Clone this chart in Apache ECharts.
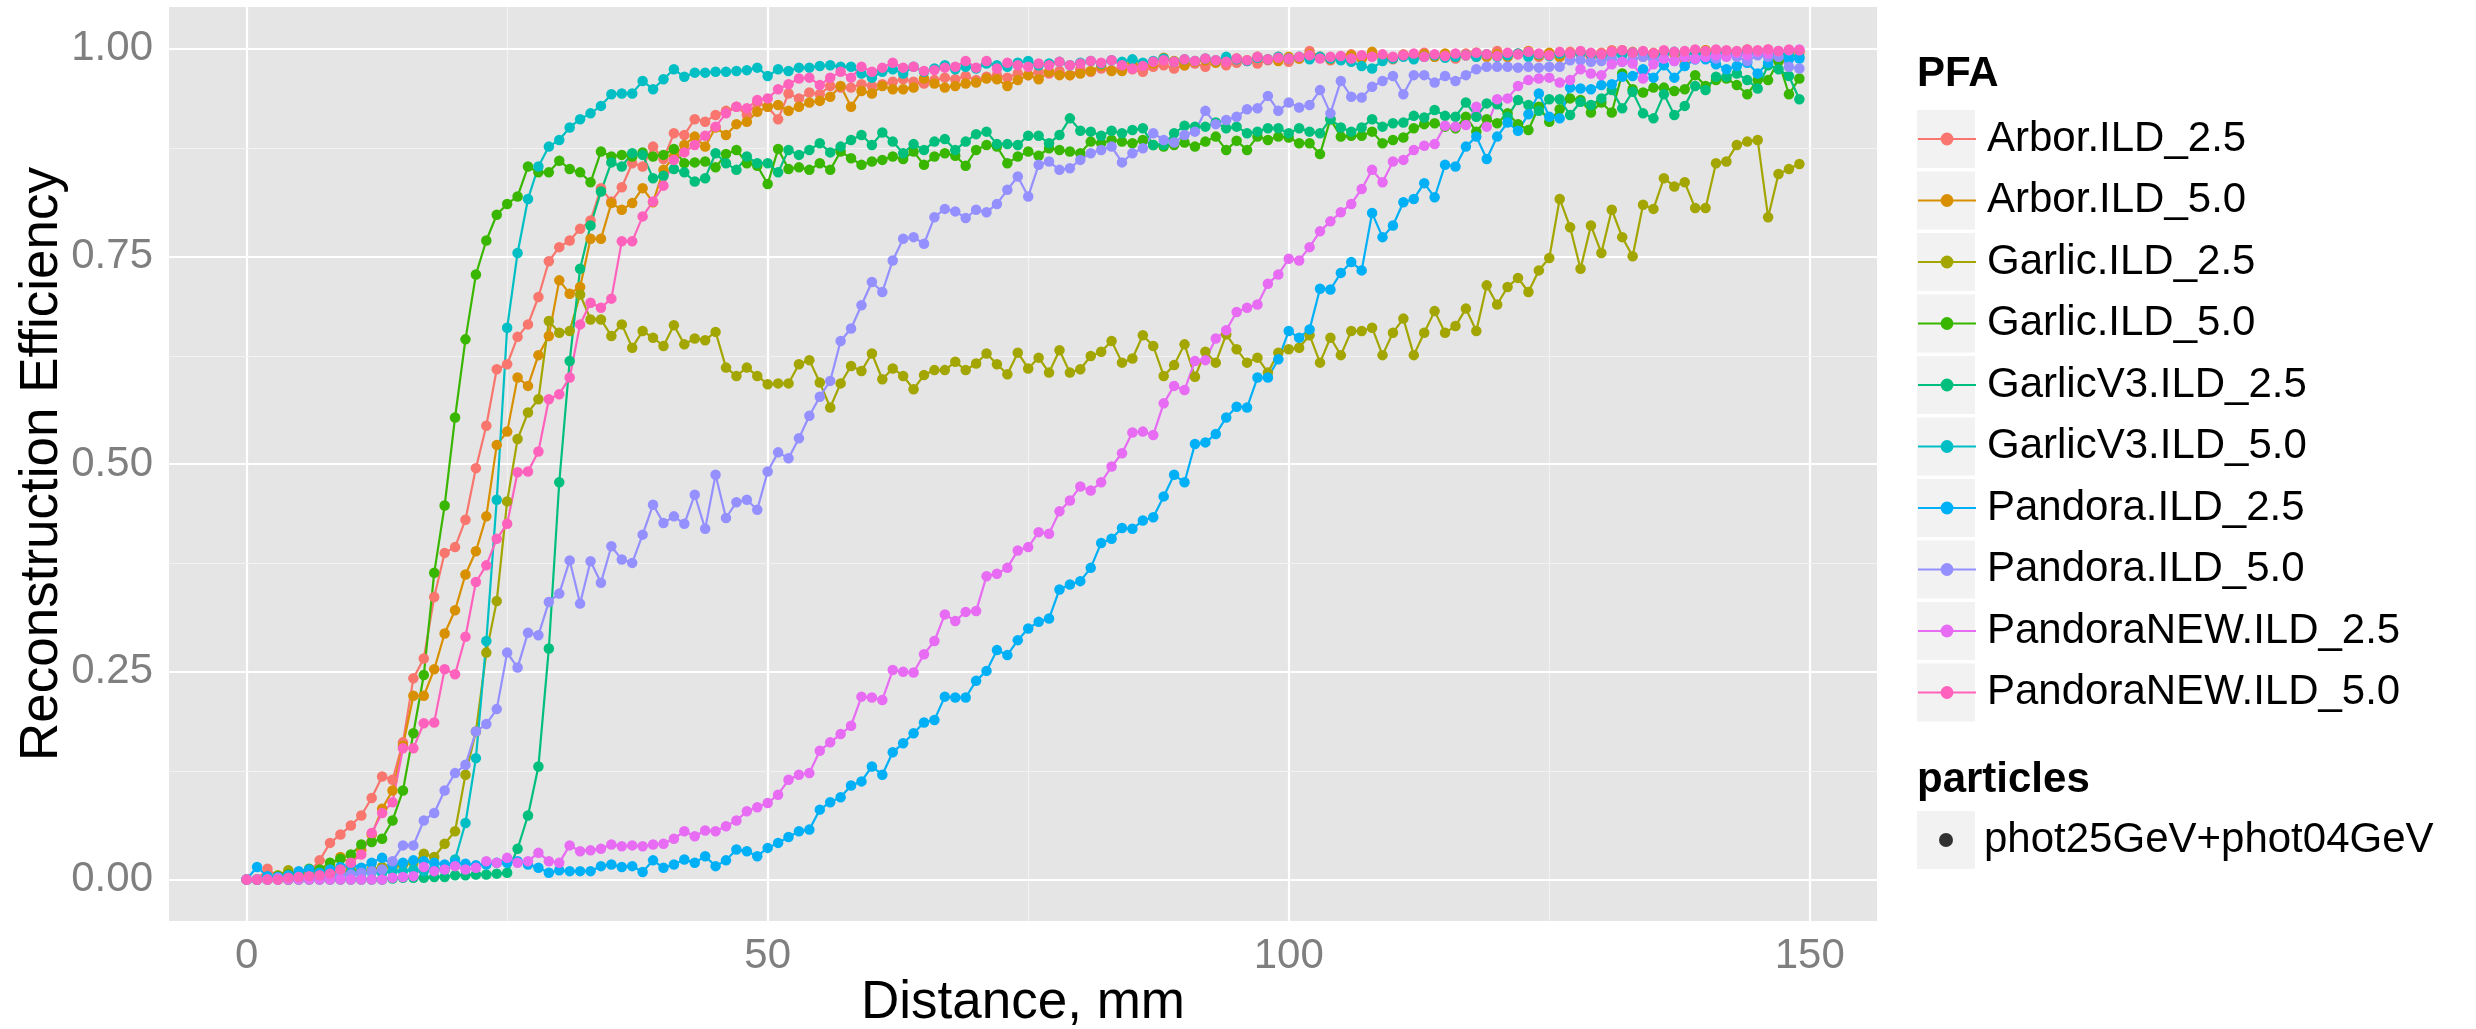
<!DOCTYPE html>
<html>
<head>
<meta charset="utf-8">
<title>Reconstruction Efficiency vs Distance</title>
<script src="https://cdn.jsdelivr.net/npm/echarts@6/dist/echarts.min.js"></script>
<style>
  html, body { margin: 0; padding: 0; background: #fff; }
  #chart { width: 2476px; height: 1029px; }
</style>
</head>
<body>
<div id="chart"></div>
<script>
// one point per mm, 0..149
var distance = Array.from({ length: 150 }, function (_, i) { return i; });

var arbor25 = [
  0, 0, 0.013, 0.003, 0, 0.003, 0.008, 0.023, 0.044, 0.054,
  0.065, 0.077, 0.098, 0.124, 0.12, 0.165, 0.242, 0.266, 0.34, 0.393,
  0.40, 0.433, 0.495, 0.546, 0.614, 0.620, 0.653, 0.668, 0.701, 0.744,
  0.761, 0.769, 0.783, 0.793, 0.832, 0.816, 0.833, 0.862, 0.858, 0.882,
  0.867, 0.898, 0.896, 0.915, 0.912, 0.92, 0.925, 0.93, 0.92, 0.935,
  0.93, 0.915, 0.946, 0.94, 0.947, 0.945, 0.955, 0.953, 0.953, 0.957,
  0.955, 0.957, 0.96, 0.963, 0.96, 0.958, 0.962, 0.965, 0.963, 0.967,
  0.962, 0.966, 0.968, 0.965, 0.97, 0.968, 0.972, 0.97, 0.973, 0.968,
  0.975, 0.972, 0.976, 0.974, 0.978, 0.975, 0.972, 0.978, 0.98, 0.976,
  0.98, 0.982, 0.978, 0.984, 0.98, 0.983, 0.985, 0.982, 0.986, 0.99,
  0.984, 0.988, 0.997, 0.99, 0.986, 0.99, 0.993, 0.988, 0.992, 0.99,
  0.987, 0.993, 0.99, 0.995, 0.99, 0.992, 0.988, 0.994, 0.99, 0.993,
  0.997, 0.99, 0.993, 0.996, 0.99, 0.994, 0.99, 0.996, 0.993, 0.99,
  0.995, 0.998, 0.993, 0.996, 0.99, 0.995, 0.997, 0.993, 0.98, 0.995,
  0.998, 0.994, 0.997, 0.995, 0.998, 0.996, 0.999, 0.985, 0.997, 0.995
];
var arbor50 = [
  0, 0, 0, 0.002, 0, 0.003, 0.005, 0.008, 0.017, 0.027,
  0.02, 0.035, 0.054, 0.085, 0.107, 0.161, 0.221, 0.221, 0.253, 0.296,
  0.324, 0.367, 0.395, 0.437, 0.523, 0.539, 0.604, 0.594, 0.631, 0.654,
  0.721, 0.705, 0.713, 0.771, 0.771, 0.814, 0.806, 0.814, 0.832, 0.815,
  0.854, 0.87, 0.884, 0.894, 0.882, 0.905, 0.896, 0.909, 0.912, 0.924,
  0.93, 0.932, 0.925, 0.93, 0.935, 0.937, 0.942, 0.955, 0.93, 0.949,
  0.946, 0.955, 0.951, 0.951, 0.953, 0.964, 0.958, 0.953, 0.955, 0.958,
  0.959, 0.964, 0.963, 0.955, 0.962, 0.968, 0.963, 0.972, 0.968, 0.968,
  0.97, 0.973, 0.979, 0.973, 0.973, 0.982, 0.979, 0.982, 0.989, 0.985,
  0.98, 0.984, 0.986, 0.983, 0.985, 0.988, 0.986, 0.99, 0.987, 0.985,
  0.99, 0.988, 0.993, 0.99, 0.987, 0.99, 0.992, 0.988, 0.996, 0.99,
  0.988, 0.992, 0.99, 0.993, 0.99, 0.994, 0.99, 0.992, 0.995, 0.99,
  0.993, 0.99, 0.994, 0.997, 0.992, 0.995, 0.99, 0.993, 0.996, 0.994,
  0.991, 0.995, 0.998, 0.994, 0.996, 0.993, 0.997, 0.995, 0.99, 0.996,
  0.998, 0.995, 0.997, 0.996, 0.999, 0.997, 0.995, 0.985, 0.996, 0.997
];
var garlic25 = [
  0, 0, 0.003, 0.005, 0.011, 0.006, 0.005, 0.008, 0.01, 0.008,
  0.012, 0.01, 0.012, 0.015, 0.014, 0.018, 0.02, 0.031, 0.027, 0.043,
  0.058, 0.126, 0.178, 0.273, 0.335, 0.455, 0.53, 0.562, 0.578, 0.672,
  0.658, 0.66, 0.704, 0.674, 0.674, 0.654, 0.668, 0.64, 0.66, 0.652,
  0.642, 0.667, 0.644, 0.651, 0.649, 0.659, 0.616, 0.606, 0.616, 0.606,
  0.596, 0.597, 0.597, 0.62, 0.625, 0.598, 0.568, 0.597, 0.618, 0.612,
  0.633, 0.602, 0.615, 0.606, 0.59, 0.607, 0.613, 0.613, 0.623, 0.613,
  0.621, 0.633, 0.62, 0.608, 0.634, 0.615, 0.628, 0.61, 0.637, 0.61,
  0.614, 0.63, 0.635, 0.648, 0.622, 0.627, 0.655, 0.642, 0.606, 0.619,
  0.644, 0.605, 0.635, 0.622, 0.656, 0.638, 0.622, 0.628, 0.61, 0.634,
  0.638, 0.64, 0.655, 0.622, 0.652, 0.631, 0.66, 0.66, 0.664, 0.631,
  0.658, 0.675, 0.631, 0.658, 0.684, 0.658, 0.666, 0.687, 0.66, 0.715,
  0.692, 0.713, 0.724, 0.707, 0.733, 0.748, 0.819, 0.785, 0.735, 0.787,
  0.754, 0.806, 0.773, 0.75, 0.812, 0.807, 0.844, 0.834, 0.839, 0.808,
  0.808, 0.862, 0.864, 0.884, 0.888, 0.89, 0.797, 0.849, 0.855, 0.861
];
var garlic50 = [
  0, 0, 0.002, 0.004, 0.006, 0.008, 0.013, 0.012, 0.02, 0.025,
  0.03, 0.042, 0.045, 0.049, 0.071, 0.107, 0.176, 0.246, 0.369, 0.45,
  0.556, 0.65, 0.728, 0.769, 0.80, 0.813, 0.822, 0.858, 0.851, 0.851,
  0.865, 0.855, 0.851, 0.839, 0.876, 0.87, 0.872, 0.87, 0.875, 0.87,
  0.872, 0.879, 0.862, 0.863, 0.864, 0.857, 0.873, 0.878, 0.862, 0.859,
  0.837, 0.879, 0.855, 0.857, 0.854, 0.862, 0.854, 0.876, 0.868, 0.86,
  0.864, 0.866, 0.87, 0.867, 0.876, 0.86, 0.87, 0.874, 0.871, 0.859,
  0.878, 0.884, 0.882, 0.862, 0.87, 0.876, 0.871, 0.88, 0.878, 0.876,
  0.874, 0.888, 0.886, 0.89, 0.888, 0.886, 0.89, 0.884, 0.882, 0.884,
  0.887, 0.882, 0.888, 0.894, 0.878, 0.889, 0.878, 0.894, 0.89, 0.894,
  0.893, 0.886, 0.886, 0.873, 0.915, 0.894, 0.895, 0.895, 0.9, 0.886,
  0.89, 0.893, 0.904, 0.909, 0.91, 0.906, 0.904, 0.918, 0.9, 0.915,
  0.91, 0.922, 0.909, 0.902, 0.93, 0.912, 0.927, 0.94, 0.938, 0.923,
  0.935, 0.923, 0.97, 0.951, 0.947, 0.953, 0.953, 0.949, 0.951, 0.968,
  0.955, 0.962, 0.964, 0.956, 0.945, 0.962, 0.962, 0.985, 0.945, 0.964
];
var garlicV3_25 = [
  0, 0, 0, 0, 0, 0, 0, 0, 0, 0,
  0, 0, 0, 0, 0.001, 0.002, 0.002, 0.002, 0.003, 0.003,
  0.005, 0.005, 0.006, 0.006, 0.007, 0.008, 0.037, 0.077, 0.136, 0.278,
  0.478, 0.624, 0.735, 0.787, 0.828, 0.863, 0.858, 0.874, 0.872, 0.844,
  0.847, 0.855, 0.851, 0.84, 0.844, 0.874, 0.862, 0.854, 0.87, 0.862,
  0.862, 0.851, 0.878, 0.872, 0.878, 0.886, 0.875, 0.882, 0.89, 0.896,
  0.884, 0.899, 0.888, 0.874, 0.885, 0.878, 0.888, 0.891, 0.878, 0.888,
  0.897, 0.9, 0.885, 0.885, 0.884, 0.895, 0.895, 0.886, 0.896, 0.916,
  0.901, 0.9, 0.895, 0.901, 0.898, 0.902, 0.904, 0.884, 0.884, 0.898,
  0.907, 0.906, 0.906, 0.911, 0.904, 0.906, 0.898, 0.9, 0.904, 0.904,
  0.898, 0.904, 0.9, 0.898, 0.915, 0.905, 0.9, 0.905, 0.915, 0.906,
  0.91, 0.911, 0.919, 0.917, 0.926, 0.919, 0.918, 0.935, 0.918, 0.934,
  0.933, 0.918, 0.938, 0.932, 0.925, 0.939, 0.939, 0.92, 0.936, 0.932,
  0.94, 0.95, 0.928, 0.948, 0.922, 0.916, 0.945, 0.92, 0.931, 0.955,
  0.95, 0.966, 0.966, 0.97, 0.962, 0.952, 0.98, 0.975, 0.967, 0.939
];
var garlicV3_50 = [
  0, 0, 0, 0.003, 0.002, 0.004, 0.003, 0.005, 0.006, 0.005,
  0.008, 0.007, 0.009, 0.008, 0.01, 0.01, 0.012, 0.01, 0.013, 0.012,
  0.024, 0.068, 0.146, 0.287, 0.457, 0.664, 0.754, 0.819, 0.858, 0.882,
  0.89, 0.905, 0.915, 0.922, 0.931, 0.945, 0.946, 0.946, 0.961, 0.951,
  0.963, 0.975, 0.966, 0.971, 0.971, 0.972, 0.972, 0.973, 0.974, 0.977,
  0.967, 0.975, 0.973, 0.977, 0.977, 0.979, 0.98, 0.978, 0.978, 0.97,
  0.965, 0.972, 0.975, 0.97, 0.978, 0.972, 0.976, 0.98, 0.975, 0.978,
  0.976, 0.982, 0.98, 0.978, 0.983, 0.985, 0.98, 0.982, 0.984, 0.98,
  0.983, 0.985, 0.982, 0.986, 0.984, 0.987, 0.983, 0.985, 0.988, 0.984,
  0.987, 0.985, 0.988, 0.986, 0.99, 0.987, 0.985, 0.989, 0.987, 0.99,
  0.988, 0.99, 0.987, 0.99, 0.988, 0.986, 0.984, 0.979, 0.976, 0.985,
  0.988, 0.99, 0.987, 0.99, 0.992, 0.989, 0.99, 0.992, 0.99, 0.993,
  0.99, 0.992, 0.994, 0.99, 0.993, 0.991, 0.994, 0.992, 0.995, 0.993,
  0.99, 0.994, 0.992, 0.995, 0.993, 0.99, 0.994, 0.996, 0.992, 0.995,
  0.993, 0.996, 0.994, 0.992, 0.995, 0.993, 0.996, 0.994, 0.992, 0.99
];
var pandora25 = [
  0, 0.015, 0.004, 0.003, 0.005, 0.01, 0.012, 0.008, 0.012, 0.015,
  0.018, 0.014, 0.02, 0.026, 0.018, 0.02, 0.023, 0.022, 0.02, 0.018,
  0.02, 0.019, 0.017, 0.018, 0.02, 0.02, 0.022, 0.018, 0.014, 0.008,
  0.011, 0.01, 0.01, 0.01, 0.016, 0.018, 0.015, 0.016, 0.009, 0.023,
  0.014, 0.018, 0.024, 0.02, 0.028, 0.016, 0.023, 0.036, 0.034, 0.028,
  0.038, 0.044, 0.051, 0.058, 0.06, 0.084, 0.093, 0.099, 0.113, 0.118,
  0.136, 0.126, 0.153, 0.164, 0.176, 0.189, 0.192, 0.22, 0.219, 0.219,
  0.239, 0.251, 0.276, 0.27, 0.288, 0.302, 0.31, 0.314, 0.349, 0.355,
  0.359, 0.375, 0.405, 0.41, 0.423, 0.422, 0.432, 0.436, 0.461, 0.487,
  0.478, 0.524, 0.526, 0.536, 0.556, 0.569, 0.568, 0.604, 0.604, 0.626,
  0.66, 0.652, 0.662, 0.711, 0.71, 0.73, 0.743, 0.733, 0.802, 0.773,
  0.787, 0.815, 0.819, 0.838, 0.821, 0.86, 0.858, 0.882, 0.894, 0.867,
  0.894, 0.911, 0.901, 0.921, 0.946, 0.918, 0.916, 0.953, 0.952, 0.951,
  0.956, 0.957, 0.966, 0.967, 0.975, 0.965, 0.98, 0.965, 0.979, 0.987,
  0.987, 0.981, 0.975, 0.979, 0.983, 0.97, 0.983, 0.99, 0.987, 0.988
];
var pandora50 = [
  0, 0, 0, 0.002, 0.001, 0.003, 0.002, 0.004, 0.005, 0.006,
  0.006, 0.008, 0.01, 0.012, 0.022, 0.041, 0.041, 0.071, 0.08, 0.107,
  0.128, 0.138, 0.178, 0.187, 0.205, 0.273, 0.255, 0.297, 0.294, 0.334,
  0.344, 0.384, 0.332, 0.383, 0.357, 0.401, 0.385, 0.381, 0.415, 0.451,
  0.429, 0.437, 0.428, 0.463, 0.422, 0.487, 0.435, 0.454, 0.457, 0.445,
  0.491, 0.514, 0.507, 0.531, 0.558, 0.581, 0.6, 0.648, 0.663, 0.691,
  0.719, 0.707, 0.745, 0.771, 0.773, 0.765, 0.797, 0.807, 0.804, 0.796,
  0.806, 0.803, 0.813, 0.83, 0.846, 0.822, 0.86, 0.864, 0.854, 0.856,
  0.866, 0.874, 0.878, 0.882, 0.863, 0.874, 0.88, 0.898, 0.89, 0.887,
  0.896, 0.9, 0.925, 0.909, 0.914, 0.918, 0.927, 0.928, 0.943, 0.925,
  0.935, 0.929, 0.932, 0.95, 0.922, 0.961, 0.942, 0.941, 0.954, 0.961,
  0.967, 0.945, 0.968, 0.968, 0.959, 0.967, 0.961, 0.968, 0.975, 0.978,
  0.978, 0.978, 0.977, 0.978, 0.977, 0.978, 0.978, 0.986, 0.986, 0.984,
  0.985, 0.988, 0.984, 0.987, 0.99, 0.986, 0.988, 0.985, 0.99, 0.987,
  0.99, 0.988, 0.992, 0.99, 0.985, 0.992, 0.99, 0.99, 0.978, 0.976
];
var pandoraNew25 = [
  0, 0, 0, 0, 0, 0, 0, 0, 0, 0,
  0, 0, 0, 0, 0.002, 0.003, 0.004, 0.015, 0.01, 0.012,
  0.016, 0.012, 0.014, 0.022, 0.02, 0.026, 0.02, 0.022, 0.032, 0.022,
  0.02, 0.041, 0.034, 0.035, 0.037, 0.042, 0.04, 0.041, 0.04, 0.042,
  0.043, 0.049, 0.058, 0.052, 0.059, 0.058, 0.064, 0.071, 0.082, 0.087,
  0.092, 0.102, 0.12, 0.126, 0.128, 0.155, 0.165, 0.175, 0.185, 0.22,
  0.219, 0.216, 0.252, 0.25, 0.249, 0.271, 0.287, 0.319, 0.311, 0.322,
  0.323, 0.365, 0.368, 0.375, 0.396, 0.4, 0.418, 0.416, 0.443, 0.456,
  0.473, 0.468, 0.478, 0.497, 0.513, 0.538, 0.539, 0.535, 0.573, 0.594,
  0.589, 0.624, 0.625, 0.651, 0.661, 0.683, 0.688, 0.692, 0.717, 0.728,
  0.747, 0.745, 0.761, 0.78, 0.792, 0.803, 0.813, 0.831, 0.854, 0.839,
  0.864, 0.866, 0.878, 0.883, 0.885, 0.907, 0.906, 0.908, 0.93, 0.906,
  0.939, 0.94, 0.955, 0.962, 0.964, 0.965, 0.959, 0.962, 0.975, 0.97,
  0.968, 0.981, 0.984, 0.982, 0.964, 0.981, 0.988, 0.985, 0.99, 0.988,
  0.99, 0.992, 0.99, 0.995, 0.992, 0.996, 0.994, 0.997, 0.998, 0.999
];
var pandoraNew50 = [
  0, 0, 0, 0, 0.002, 0.003, 0.004, 0.005, 0.007, 0.012,
  0.02, 0.03, 0.056, 0.08, 0.093, 0.158, 0.158, 0.188, 0.189, 0.253,
  0.247, 0.292, 0.358, 0.378, 0.41, 0.428, 0.49, 0.491, 0.515, 0.578,
  0.584, 0.604, 0.668, 0.694, 0.688, 0.699, 0.768, 0.768, 0.798, 0.816,
  0.835, 0.866, 0.875, 0.884, 0.895, 0.906, 0.922, 0.93, 0.928, 0.938,
  0.94, 0.951, 0.957, 0.964, 0.965, 0.956, 0.965, 0.972, 0.965, 0.978,
  0.972, 0.977, 0.983, 0.977, 0.978, 0.973, 0.974, 0.977, 0.978, 0.985,
  0.977, 0.985, 0.976, 0.983, 0.98, 0.978, 0.982, 0.98, 0.984, 0.98,
  0.982, 0.985, 0.983, 0.986, 0.98, 0.976, 0.979, 0.984, 0.986, 0.984,
  0.987, 0.985, 0.988, 0.986, 0.984, 0.988, 0.986, 0.99, 0.987, 0.989,
  0.988, 0.99, 0.992, 0.988, 0.99, 0.991, 0.988, 0.992, 0.99, 0.993,
  0.99, 0.992, 0.994, 0.99, 0.993, 0.991, 0.994, 0.992, 0.995, 0.993,
  0.991, 0.995, 0.993, 0.996, 0.994, 0.992, 0.996, 0.994, 0.997, 0.995,
  0.993, 0.996, 0.998, 0.995, 0.997, 0.994, 0.998, 0.996, 0.997, 0.999,
  0.997, 0.999, 0.998, 0.997, 0.999, 0.998, 0.999, 0.997, 0.999, 0.998
];

var pfaNames = ['Arbor.ILD_2.5', 'Arbor.ILD_5.0', 'Garlic.ILD_2.5', 'Garlic.ILD_5.0',
  'GarlicV3.ILD_2.5', 'GarlicV3.ILD_5.0', 'Pandora.ILD_2.5', 'Pandora.ILD_5.0',
  'PandoraNEW.ILD_2.5', 'PandoraNEW.ILD_5.0'];
var pfaValues = [arbor25, arbor50, garlic25, garlic50, garlicV3_25, garlicV3_50,
  pandora25, pandora50, pandoraNew25, pandoraNew50];
var pfaColors = ['#F8766D', '#D89000', '#A3A500', '#39B600', '#00BF7D',
  '#00BFC4', '#00B0F6', '#9590FF', '#E76BF3', '#FF62BC'];
var particlesName = 'phot25GeV+phot04GeV';

var xTicks = [0, 50, 100, 150];
var xMinor = [25, 75, 125];
var yTicks = [0, 0.25, 0.5, 0.75, 1];
var yMinor = [0.125, 0.375, 0.625, 0.875];

var FONT = '"Liberation Sans", Arial, Helvetica, sans-serif';
var AXIS_GREY = '#7F7F7F';

// legend layout
var keyLeft = 1917, keySize = 58, rowTop = 118, rowStep = 61.5, rowText = 42;
var partTop = 819;

var gridLines = [];
xTicks.forEach(function (v) { gridLines.push({ xAxis: v, lineStyle: { type: 'solid', color: '#FFFFFF', width: 2.2 } }); });
xMinor.forEach(function (v) { gridLines.push({ xAxis: v, lineStyle: { type: 'solid', color: '#F2F2F2', width: 1.2 } }); });
yTicks.forEach(function (v) { gridLines.push({ yAxis: v, lineStyle: { type: 'solid', color: '#FFFFFF', width: 2.2 } }); });
yMinor.forEach(function (v) { gridLines.push({ yAxis: v, lineStyle: { type: 'solid', color: '#F2F2F2', width: 1.2 } }); });

var series = pfaNames.map(function (name, k) {
  var s = {
    name: name,
    type: 'line',
    data: pfaValues[k].map(function (v, i) { return [distance[i], v]; }),
    symbol: 'circle',
    symbolSize: 10.5,
    showSymbol: true,
    lineStyle: { width: 2.2, color: pfaColors[k] },
    itemStyle: { color: pfaColors[k] },
    emphasis: { disabled: true },
    z: 2
  };
  if (k === 0) {
    s.markLine = {
      silent: true,
      symbol: 'none',
      z: 1,
      lineStyle: { type: 'solid' },
      label: { show: false },
      emphasis: { disabled: true },
      data: gridLines
    };
  }
  return s;
});
series.push({
  name: particlesName,
  type: 'scatter',
  data: [],
  itemStyle: { color: '#000000' }
});

// grey legend key backgrounds
var keyBoxes = pfaNames.map(function (n, i) {
  var cy = rowTop + rowText / 2 + i * rowStep;
  return { type: 'rect', shape: { x: keyLeft, y: cy - keySize / 2, width: keySize, height: keySize },
    style: { fill: '#F2F2F2' }, z: 0, silent: true };
});
keyBoxes.push({ type: 'rect', shape: { x: keyLeft, y: partTop + rowText / 2 - keySize / 2, width: keySize, height: keySize },
  style: { fill: '#F2F2F2' }, z: 0, silent: true });

var chart = echarts.init(document.getElementById('chart'));
chart.setOption({
  animation: false,
  textStyle: { fontFamily: FONT },
  title: [
    { text: 'PFA', left: keyLeft, top: 53, padding: 0,
      textStyle: { fontSize: 42, fontWeight: 'bold', color: '#000', fontFamily: FONT } },
    { text: 'particles', left: keyLeft, top: 759, padding: 0,
      textStyle: { fontSize: 42, fontWeight: 'bold', color: '#000', fontFamily: FONT } }
  ],
  grid: {
    left: 169, top: 7, width: 1708, height: 914,
    outerBoundsMode: 'none', containLabel: false,
    show: true, backgroundColor: '#E5E5E5', borderWidth: 0
  },
  xAxis: {
    type: 'value', min: -7.45, max: 156.45,
    name: 'Distance, mm', nameLocation: 'middle', nameGap: 56, nameMoveOverlap: false,
    nameTextStyle: { fontSize: 53, color: '#000', fontFamily: FONT },
    axisLine: { show: false },
    splitLine: { show: false },
    axisTick: { show: true, length: 10, customValues: xTicks, lineStyle: { color: AXIS_GREY, width: 2 } },
    axisLabel: { customValues: xTicks, margin: 14, fontSize: 42, color: AXIS_GREY, fontFamily: FONT }
  },
  yAxis: {
    type: 'value', min: -0.05, max: 1.05,
    name: 'Reconstruction Efficiency', nameLocation: 'middle', nameGap: 100, nameMoveOverlap: false,
    nameTextStyle: { fontSize: 53, color: '#000', fontFamily: FONT },
    axisLine: { show: false },
    splitLine: { show: false },
    axisTick: { show: true, length: 10, customValues: yTicks, lineStyle: { color: AXIS_GREY, width: 2 } },
    axisLabel: { customValues: yTicks, margin: 16, fontSize: 42, color: AXIS_GREY, fontFamily: FONT,
      formatter: function (v) { return v.toFixed(2); } }
  },
  legend: [
    {
      data: pfaNames, orient: 'vertical', left: keyLeft, top: rowTop, padding: 0,
      itemWidth: keySize, itemHeight: 16, itemGap: rowStep - rowText, selectedMode: false,
      textStyle: { fontSize: 42, lineHeight: rowText, color: '#000', fontFamily: FONT, padding: [0, 0, 0, 6] }
    },
    {
      data: [particlesName], orient: 'vertical', left: keyLeft + keySize / 2 - 7, top: partTop, padding: 0,
      icon: 'circle', itemWidth: 14, itemHeight: 14, selectedMode: false,
      textStyle: { fontSize: 42, lineHeight: rowText, color: '#000', fontFamily: FONT, padding: [0, 0, 0, 26] }
    }
  ],
  graphic: keyBoxes,
  series: series
});
</script>
</body>
</html>
